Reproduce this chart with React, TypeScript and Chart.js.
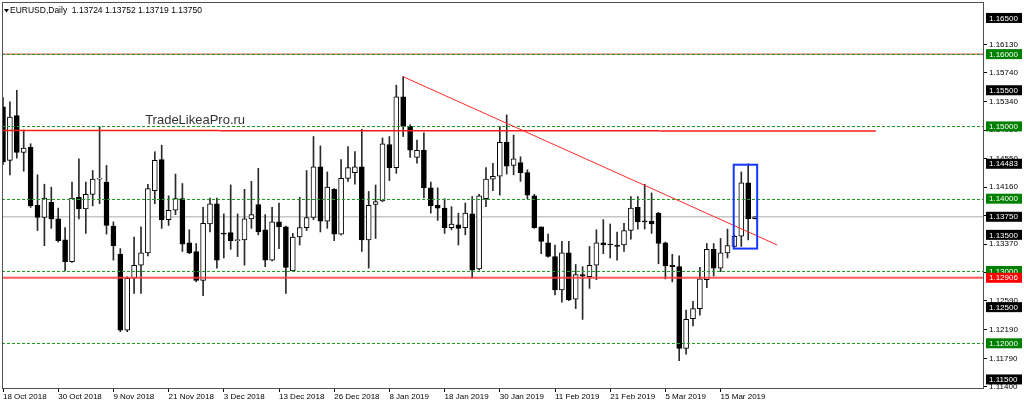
import { useEffect, useRef } from 'react';
import { Chart, registerables } from 'chart.js';

Chart.register(...registerables);

// ---- Data (EURUSD daily, 18 Oct 2018 – 22 Mar 2019) ----
const opens = [
  1.1527, 1.1453, 1.1515, 1.1464, 1.1471, 1.1391, 1.1374, 1.1395, 1.1372, 1.1343,
  1.1313, 1.1402, 1.1386, 1.1406, 1.1427, 1.1423, 1.1362, 1.1323, 1.1218, 1.1290,
  1.1308, 1.1325, 1.1411, 1.1454, 1.1371, 1.1384, 1.1400, 1.1339, 1.1327, 1.1287,
  1.1365, 1.1393, 1.1352, 1.1353, 1.1342, 1.1343, 1.1372, 1.1392, 1.1357, 1.1315,
  1.1368, 1.1361, 1.1300, 1.1347, 1.1360, 1.1374, 1.1444, 1.1369, 1.1413, 1.1351,
  1.1428, 1.1436, 1.1444, 1.1343, 1.1392, 1.1397, 1.1475, 1.1443, 1.1541, 1.1500,
  1.1457, 1.1467, 1.1415, 1.1391, 1.1387, 1.1360, 1.1364, 1.1360, 1.1379, 1.1303,
  1.1400, 1.1427, 1.1431, 1.1478, 1.1446, 1.1450, 1.1436, 1.1404, 1.1361, 1.1339,
  1.1320, 1.1274, 1.1325, 1.1261, 1.1295, 1.1292, 1.1308, 1.1339, 1.1337, 1.1336,
  1.1336, 1.1356, 1.1388, 1.1369, 1.1369, 1.1380, 1.1339, 1.1308, 1.1306, 1.1193,
  1.1234, 1.1248, 1.1288, 1.1330, 1.1304, 1.1325, 1.1334, 1.1348, 1.1422, 1.13724,
];
const highs = [
  1.1540, 1.1534, 1.1550, 1.1495, 1.1476, 1.1433, 1.1420, 1.1416, 1.1387, 1.1360,
  1.1423, 1.1455, 1.1423, 1.1439, 1.1500, 1.1446, 1.1368, 1.1331, 1.1292, 1.1347,
  1.1361, 1.1420, 1.1465, 1.1474, 1.1404, 1.1434, 1.1421, 1.1357, 1.1338, 1.1388,
  1.1401, 1.1401, 1.1379, 1.1419, 1.1379, 1.1413, 1.1424, 1.1442, 1.1378, 1.1388,
  1.1394, 1.1362, 1.1352, 1.1402, 1.1439, 1.1486, 1.1473, 1.1437, 1.1414, 1.1454,
  1.1472, 1.1465, 1.1496, 1.1410, 1.1419, 1.1484, 1.1486, 1.1557, 1.1569, 1.1502,
  1.1481, 1.1491, 1.1423, 1.1415, 1.1400, 1.1389, 1.1380, 1.1394, 1.1403, 1.1406,
  1.1443, 1.1449, 1.1500, 1.1516, 1.1488, 1.1458, 1.1440, 1.1406, 1.1361, 1.1351,
  1.1336, 1.1341, 1.1341, 1.1309, 1.1306, 1.1334, 1.1357, 1.1371, 1.1365, 1.1354,
  1.1366, 1.1403, 1.1403, 1.1420, 1.1408, 1.1381, 1.1340, 1.1323, 1.1321, 1.1246,
  1.1258, 1.1305, 1.1338, 1.1338, 1.1345, 1.1358, 1.1350, 1.1437, 1.14483, 1.13752,
];
const lows = [
  1.1447, 1.1433, 1.1456, 1.1438, 1.1388, 1.1356, 1.1335, 1.1359, 1.1340, 1.1300,
  1.1312, 1.1372, 1.1352, 1.1390, 1.1393, 1.1351, 1.1315, 1.1216, 1.1216, 1.1269,
  1.1269, 1.1321, 1.1393, 1.1359, 1.1363, 1.1378, 1.1327, 1.1324, 1.1285, 1.1266,
  1.1354, 1.1304, 1.1318, 1.1330, 1.1320, 1.1308, 1.1359, 1.1350, 1.1306, 1.1314,
  1.1331, 1.1269, 1.1299, 1.1336, 1.1356, 1.1371, 1.1354, 1.1359, 1.1342, 1.1350,
  1.1424, 1.1420, 1.1327, 1.1304, 1.1345, 1.1396, 1.1425, 1.1435, 1.1486, 1.1457,
  1.1449, 1.1401, 1.1380, 1.1370, 1.1352, 1.1357, 1.1336, 1.1350, 1.1290, 1.1301,
  1.1389, 1.1411, 1.1405, 1.1434, 1.1433, 1.1424, 1.1400, 1.1359, 1.1324, 1.1319,
  1.1267, 1.1257, 1.1259, 1.1248, 1.1233, 1.1276, 1.1288, 1.1324, 1.1318, 1.1315,
  1.1327, 1.1344, 1.1358, 1.1358, 1.1352, 1.1310, 1.1289, 1.1285, 1.1176, 1.1185,
  1.1224, 1.1239, 1.1277, 1.1293, 1.1299, 1.1318, 1.1333, 1.1334, 1.1343, 1.13719,
];
const closes = [
  1.1451, 1.1513, 1.1464, 1.1470, 1.1390, 1.1374, 1.1401, 1.1372, 1.1342, 1.1313,
  1.1401, 1.1386, 1.1406, 1.1427, 1.1428, 1.1363, 1.1335, 1.1218, 1.1290, 1.1308,
  1.1325, 1.1414, 1.1453, 1.1371, 1.1384, 1.1400, 1.1337, 1.1325, 1.1287, 1.1366,
  1.1393, 1.1315, 1.1351, 1.1342, 1.1343, 1.1372, 1.1378, 1.1354, 1.1315, 1.1368,
  1.1361, 1.1305, 1.1347, 1.1360, 1.1374, 1.1444, 1.1369, 1.1416, 1.1351, 1.1428,
  1.1443, 1.1444, 1.1343, 1.1391, 1.1396, 1.1476, 1.1443, 1.1541, 1.1500, 1.1467,
  1.1467, 1.1415, 1.1390, 1.1387, 1.1360, 1.1365, 1.1359, 1.1380, 1.1301, 1.1404,
  1.1427, 1.1431, 1.1478, 1.1445, 1.1455, 1.1436, 1.1405, 1.1360, 1.1341, 1.1320,
  1.1274, 1.1325, 1.1260, 1.1295, 1.1293, 1.1308, 1.1339, 1.1336, 1.1336, 1.1334,
  1.1356, 1.1387, 1.1368, 1.1368, 1.1365, 1.1338, 1.1307, 1.1306, 1.1193, 1.1233,
  1.1248, 1.1289, 1.1330, 1.1304, 1.1325, 1.1335, 1.1348, 1.1422, 1.13724, 1.13750,
];

const tickIndex = [0, 8, 16, 24, 32, 40, 48, 56, 64, 72, 80, 88, 96, 104];
const tickLabels = [
  '18 Oct 2018', '30 Oct 2018', '9 Nov 2018', '21 Nov 2018', '3 Dec 2018', '13 Dec 2018',
  '26 Dec 2018', '8 Jan 2019', '18 Jan 2019', '30 Jan 2019', '11 Feb 2019', '21 Feb 2019',
  '5 Mar 2019', '15 Mar 2019',
];
const priceTicks = [
  1.1613, 1.1574, 1.1534, 1.1495, 1.1455, 1.1416, 1.1377, 1.1337, 1.1298, 1.1259,
  1.1219, 1.1179, 1.114,
];
const boxLevels = [
  1.165, 1.16, 1.155, 1.15, 1.14483, 1.14, 1.1375, 1.135, 1.13, 1.12906, 1.125, 1.12, 1.115,
];
const boxColors = [
  '#000000', '#008000', '#000000', '#008000', '#000000', '#008000', '#000000',
  '#000000', '#008000', '#ff0000', '#000000', '#008000', '#000000',
];
const greenLevels = [1.16, 1.15, 1.14, 1.13, 1.12];
const redLevel = 1.16;
const supportLevel = 1.12906;
const bidLevel = 1.1375;
const resistStart = [-0.5, 31.4, 95.1];
const resistEnd = [31.4, 95.1, 126.5];
const resistPrice = [1.14945, 1.1494, 1.14935];
const trendX = [58, 112.2];
const trendY = [1.15687, 1.1336];
const boxX = [105.9, 109.3];
const boxY = [1.1447, 1.1331];
const watermark = { text: 'TradeLikeaPro.ru', x: 20.6, y: 1.1503 };
const title = 'EURUSD,Daily  1.13724 1.13752 1.13719 1.13750';

const FONT = "'Liberation Sans', Arial, sans-serif";

const overlay = {
  id: 'overlay',
  beforeDatasetsDraw(chart: any) {
    const { ctx, chartArea: a, scales } = chart;
    const y = scales.y;
    ctx.save();
    ctx.beginPath();
    ctx.rect(a.left, a.top, a.width, a.height);
    ctx.clip();
    const py = y.getPixelForValue(bidLevel);
    ctx.strokeStyle = '#c8c8c8';
    ctx.lineWidth = 1.5;
    ctx.beginPath();
    ctx.moveTo(a.left, py);
    ctx.lineTo(a.right, py);
    ctx.stroke();
    ctx.restore();
  },
  afterDatasetsDraw(chart: any) {
    const { ctx, chartArea: a, scales } = chart;
    const x = scales.x;
    const y = scales.y;
    ctx.save();
    ctx.beginPath();
    ctx.rect(a.left, a.top, a.width, a.height);
    ctx.clip();

    // red line at 1.16
    let py = y.getPixelForValue(redLevel);
    ctx.strokeStyle = '#c83c3c';
    ctx.lineWidth = 1;
    ctx.beginPath();
    ctx.moveTo(a.left, py);
    ctx.lineTo(a.right, py);
    ctx.stroke();

    // green dashed levels
    ctx.strokeStyle = '#1e9a1e';
    ctx.lineWidth = 1;
    ctx.setLineDash([3, 2]);
    greenLevels.forEach((lv) => {
      const yy = Math.round(y.getPixelForValue(lv)) + 0.5;
      ctx.beginPath();
      ctx.moveTo(a.left, yy);
      ctx.lineTo(a.right, yy);
      ctx.stroke();
    });
    ctx.setLineDash([]);

    // support 1.12906
    py = y.getPixelForValue(supportLevel);
    ctx.strokeStyle = 'rgba(255,60,60,0.85)';
    ctx.lineWidth = 2;
    ctx.beginPath();
    ctx.moveTo(a.left, py);
    ctx.lineTo(a.right, py);
    ctx.stroke();

    // resistance segments
    ctx.strokeStyle = '#ff1a1a';
    ctx.lineWidth = 1.5;
    resistStart.forEach((s, i) => {
      const yy = y.getPixelForValue(resistPrice[i]);
      ctx.beginPath();
      ctx.moveTo(x.getPixelForValue(s), yy);
      ctx.lineTo(x.getPixelForValue(resistEnd[i]), yy);
      ctx.stroke();
    });

    // trend line
    ctx.strokeStyle = '#ff2a2a';
    ctx.lineWidth = 1;
    ctx.beginPath();
    ctx.moveTo(x.getPixelForValue(trendX[0]), y.getPixelForValue(trendY[0]));
    ctx.lineTo(x.getPixelForValue(trendX[1]), y.getPixelForValue(trendY[1]));
    ctx.stroke();

    // blue rectangle
    ctx.strokeStyle = '#1437ff';
    ctx.lineWidth = 2;
    const bx0 = x.getPixelForValue(boxX[0]);
    const bx1 = x.getPixelForValue(boxX[1]);
    const by0 = y.getPixelForValue(boxY[0]);
    const by1 = y.getPixelForValue(boxY[1]);
    ctx.strokeRect(bx0, by0, bx1 - bx0, by1 - by0);

    // watermark text
    ctx.fillStyle = '#333333';
    ctx.font = `13px ${FONT}`;
    ctx.textAlign = 'left';
    ctx.textBaseline = 'alphabetic';
    ctx.fillText(watermark.text, x.getPixelForValue(watermark.x), y.getPixelForValue(watermark.y));
    ctx.restore();
  },
  afterDraw(chart: any) {
    const { ctx, chartArea: a, scales } = chart;
    const y = scales.y;
    ctx.save();
    // frame
    ctx.strokeStyle = '#505050';
    ctx.lineWidth = 1;
    ctx.strokeRect(Math.round(a.left) + 0.5, Math.round(a.top) + 0.5, Math.round(a.width) - 1, Math.round(a.height));

    // title
    ctx.fillStyle = '#000';
    ctx.beginPath();
    ctx.moveTo(a.left + 2, a.top + 7);
    ctx.lineTo(a.left + 7, a.top + 7);
    ctx.lineTo(a.left + 4.5, a.top + 10.5);
    ctx.closePath();
    ctx.fill();
    ctx.font = `8.5px ${FONT}`;
    ctx.textBaseline = 'middle';
    ctx.textAlign = 'left';
    ctx.fillText(title, a.left + 8, a.top + 9);

    // axis boxes
    ctx.font = `8px ${FONT}`;
    boxLevels.forEach((lv, i) => {
      const yy = y.getPixelForValue(lv);
      ctx.fillStyle = boxColors[i];
      ctx.fillRect(a.right + 2, yy - 5, 36, 10);
      ctx.fillStyle = '#ffffff';
      ctx.fillText(lv.toFixed(5), a.right + 5, yy + 0.5);
    });
    ctx.restore();
  },
};

export default function App() {
  const ref = useRef<HTMLCanvasElement | null>(null);

  useEffect(() => {
    if (!ref.current) return;
    const bodies = opens.map((o, i) => ({ x: i, y: [o, closes[i]] }));
    const wicks = opens.map((_, i) => ({ x: i, y: [lows[i], highs[i]] }));
    const bodyColors = opens.map((o, i) => (closes[i] >= o ? '#ffffff' : '#000000'));
    const xMin = -0.145;
    const xMax = xMin + 982 / 6.9;

    const chart = new Chart(ref.current, {
      type: 'bar',
      data: {
        datasets: [
          {
            data: bodies as any,
            backgroundColor: bodyColors,
            borderColor: '#000000',
            borderWidth: 1,
            borderSkipped: false,
            barThickness: 5,
            maxBarThickness: 5,
            minBarLength: 1,
            grouped: false,
            order: 0,
          } as any,
          {
            data: wicks as any,
            backgroundColor: '#2a2a2a',
            borderWidth: 0,
            barThickness: 1,
            maxBarThickness: 1,
            grouped: false,
            order: 1,
          } as any,
        ],
      },
      options: {
        responsive: false,
        animation: false,
        events: [],
        layout: { padding: { left: 2, top: 2, right: 0, bottom: 0 } },
        plugins: { legend: { display: false }, tooltip: { enabled: false }, title: { display: false } },
        scales: {
          x: {
            type: 'linear',
            min: xMin,
            max: xMax,
            offset: false,
            afterBuildTicks: (axis: any) => {
              axis.ticks = tickIndex.map((v) => ({ value: v }));
            },
            afterFit: (axis: any) => {
              axis.height = 19;
              axis.paddingLeft = 0;
              axis.paddingRight = 0;
            },
            ticks: {
              autoSkip: false,
              maxRotation: 0,
              minRotation: 0,
              align: 'start',
              padding: 0,
              color: '#000000',
              font: { family: FONT, size: 8 },
              callback: (v: any) => {
                const k = tickIndex.indexOf(Number(v));
                return k >= 0 ? tickLabels[k] : '';
              },
            },
            grid: { display: true, offset: false, drawOnChartArea: false, drawTicks: true, tickLength: 4, color: '#000000' },
            border: { display: false },
          },
          y: {
            type: 'linear',
            position: 'right',
            min: 1.113817,
            max: 1.167206,
            afterBuildTicks: (axis: any) => {
              axis.ticks = priceTicks.map((v) => ({ value: v }));
            },
            afterFit: (axis: any) => {
              axis.width = 40;
              axis.paddingTop = 0;
              axis.paddingBottom = 0;
            },
            ticks: {
              padding: 2,
              color: '#000000',
              font: { family: FONT, size: 8 },
              callback: (v: any) => Number(v).toFixed(5),
            },
            grid: { display: true, drawOnChartArea: false, drawTicks: true, tickLength: 3, color: '#000000' },
            border: { display: false },
          },
        },
      },
      plugins: [overlay],
    });
    return () => chart.destroy();
  }, []);

  return (
    <div style={{ position: 'fixed', left: 0, top: 0, width: 1024, height: 407, background: '#ffffff' }}>
      <canvas ref={ref} width={1024} height={407} />
    </div>
  );
}
